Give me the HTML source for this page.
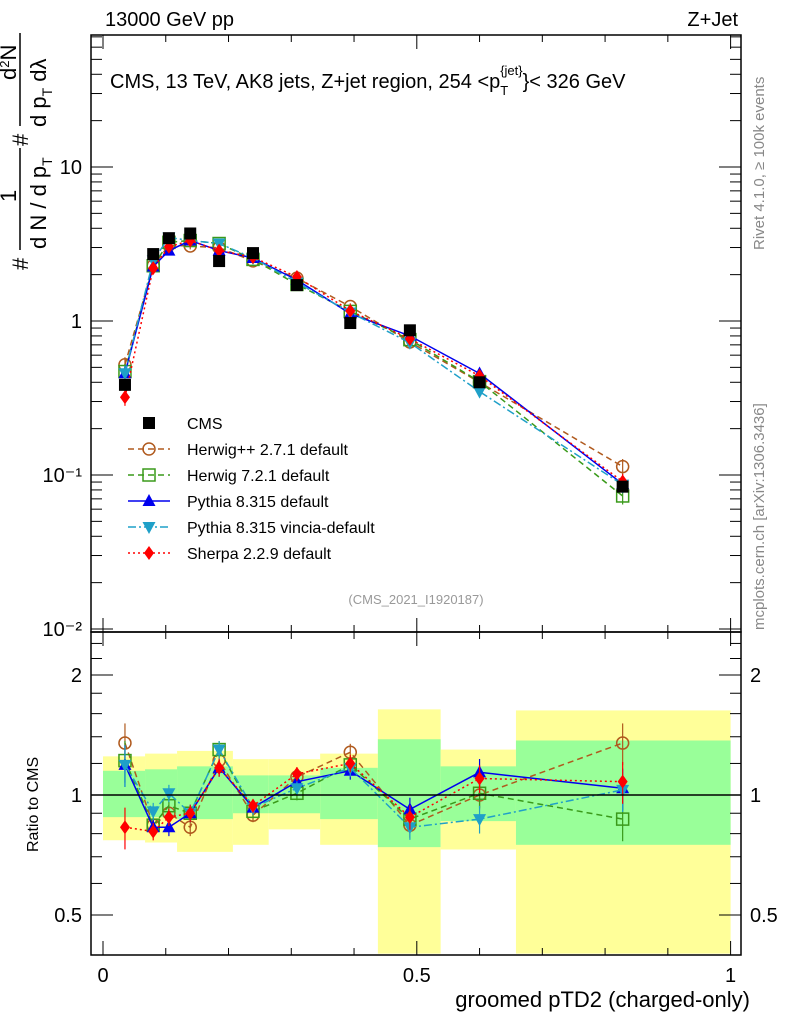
<!DOCTYPE html>
<html><head><meta charset="utf-8"><style>
body{margin:0;background:#fff;}
svg{display:block;font-family:"Liberation Sans",sans-serif;}
</style></head><body>
<svg id="chart" width="786" height="1024" viewBox="0 0 786 1024" xmlns="http://www.w3.org/2000/svg">
<g id="bands"></g>
<g id="grid"></g>
<g id="series"></g>
<rect x="91" y="35" width="650" height="597" fill="none" stroke="#000" stroke-width="1.5"/>
<rect x="91" y="632" width="650" height="323" fill="none" stroke="#000" stroke-width="1.5"/>
<line x1="91" y1="795" x2="741" y2="795" stroke="#000" stroke-width="1.5"/>
<text x="105" y="26" font-size="20">13000 GeV pp</text>
<text x="738" y="26" font-size="20" text-anchor="end">Z+Jet</text>
<text x="110" y="88" font-size="20">CMS, 13 TeV, AK8 jets, Z+jet region, 254 &lt;p<tspan font-size="13" dy="7">T</tspan><tspan font-size="13" dx="-8" dy="-20">{jet}</tspan><tspan dy="13">}&lt; 326 GeV</tspan></text>
<text x="416" y="604" font-size="13" fill="#999" text-anchor="middle">(CMS_2021_I1920187)</text>
<text transform="translate(764,250) rotate(-90)" font-size="15" fill="#888">Rivet 4.1.0, ≥ 100k events</text>
<text transform="translate(764,630) rotate(-90)" font-size="15" fill="#888">mcplots.cern.ch [arXiv:1306.3436]</text>
<g font-size="22">
<text transform="translate(28,270) rotate(-90)">#</text>
<text transform="translate(16,202) rotate(-90)">1</text>
<line x1="20" y1="148" x2="20" y2="250" stroke="#000" stroke-width="1.5"/>
<text transform="translate(46,249) rotate(-90)">d N / d p<tspan font-size="14" dy="6">T</tspan></text>
<text transform="translate(28,146) rotate(-90)">#</text>
<text transform="translate(16,80) rotate(-90)">d<tspan font-size="13" dy="-7">2</tspan><tspan dy="7">N</tspan></text>
<line x1="20" y1="33" x2="20" y2="126" stroke="#000" stroke-width="1.5"/>
<text transform="translate(46,127) rotate(-90)">d p<tspan font-size="14" dy="6">T</tspan><tspan dy="-6"> dλ</tspan></text>
</g>
<text transform="translate(38,852) rotate(-90)" font-size="16">Ratio to CMS</text>
<text x="750" y="1007" font-size="22" text-anchor="end">groomed pTD2 (charged-only)</text>
<g id="legend"></g>
</svg>
<script>
const xs=[0.035,0.080,0.105,0.139,0.185,0.239,0.309,0.394,0.489,0.600,0.828];
const cms=[0.385,2.72,3.45,3.7,2.45,2.76,1.71,0.97,0.87,0.40,0.084];
const rHpp=[1.35,0.84,0.90,0.83,1.22,0.89,1.11,1.28,0.84,1.00,1.35];
const rH7=[1.22,0.84,0.94,0.90,1.30,0.91,1.01,1.19,0.87,1.01,0.87];
const rPy=[1.19,0.83,0.83,0.90,1.17,0.93,1.08,1.15,0.92,1.14,1.04];
const rVi=[1.19,0.91,1.01,0.90,1.30,0.93,1.04,1.17,0.83,0.87,1.03];
const rSh=[0.83,0.81,0.88,0.90,1.17,0.94,1.13,1.20,0.88,1.10,1.08];
const errs=[0.12,0.05,0.05,0.05,0.05,0.04,0.04,0.05,0.07,0.08,0.12];
const bandEdges=[0,0.067,0.118,0.207,0.264,0.346,0.438,0.538,0.658,1.0];
const yelLo=[0.77,0.76,0.72,0.75,0.82,0.75,0.40,0.73,0.40];
const yelHi=[1.25,1.27,1.29,1.23,1.23,1.27,1.64,1.30,1.63];
const grnLo=[0.88,0.88,0.87,0.90,0.90,0.87,0.74,0.86,0.75];
const grnHi=[1.15,1.16,1.18,1.12,1.12,1.17,1.38,1.18,1.37];
const xTicks=[0,0.5,1];
const yTicks=[0.01,0.1,1,10];
const yTickLabels=["10\u207B\u00B2","10\u207B\u00B9","1","10"];
const rTicks=[0.5,1,2];
const rTickLabels=["0.5","1","2"];

const NS="http://www.w3.org/2000/svg";
const X=v=>103+v*627.6;
const Y=v=>321-154*Math.log10(v);
const R=v=>795-120*Math.log2(v);
function el(tag,attrs,parent){const e=document.createElementNS(NS,tag);for(const k in attrs)e.setAttribute(k,attrs[k]);parent.appendChild(e);return e;}
const svg=document.getElementById('chart');
const bands=document.getElementById('bands'),grid=document.getElementById('grid'),ser=document.getElementById('series'),leg=document.getElementById('legend');

for(let i=0;i<bandEdges.length-1;i++){
  const x0=X(bandEdges[i]),x1=X(bandEdges[i+1]);
  const yt=Math.max(632,R(yelHi[i])),yb=Math.min(955,R(yelLo[i]));
  const a=el('rect',{x:x0,y:yt,width:x1-x0,height:yb-yt,fill:'#ffff99'},bands);
  
  
  const gt=R(grnHi[i]),gb=R(grnLo[i]);
  const b=el('rect',{x:x0,y:gt,width:x1-x0,height:gb-gt,fill:'#99ff99'},bands);
  
  
}
for(let v=0;v<=1.0001;v+=0.1){
  const big=Math.abs(v*2-Math.round(v*2))<1e-6;
  const L=big?14:7;
  [[35,1],[632,-1],[632,1],[955,-1]].forEach(([y,d])=>el('line',{x1:X(v),x2:X(v),y1:y,y2:y+d*L,stroke:'#000'},grid));
}
xTicks.forEach(v=>{const t=el('text',{x:X(v),y:982,'font-size':20,'text-anchor':'middle'},svg);t.textContent=String(v);

});
for(let e=-2;e<=1;e++){for(let m=1;m<=9;m++){const v=m*Math.pow(10,e);const y=Y(v);if(y<35||y>632)continue;const L=m==1?22:11;
el('line',{x1:91,x2:91+L,y1:y,y2:y,stroke:'#000'},grid);el('line',{x1:741,x2:741-L,y1:y,y2:y,stroke:'#000'},grid);}}
yTicks.forEach((v,i)=>{const t=el('text',{x:82,y:Y(v)+7,'font-size':20,'text-anchor':'end'},svg);t.textContent=yTickLabels[i];

});
[0.5,0.6,0.7,0.8,0.9,1,1.2,1.4,1.6,1.8,2,2.2,2.4].forEach(v=>{const y=R(v);const L=(v==0.5||v==1||v==2)?22:11;
el('line',{x1:91,x2:91+L,y1:y,y2:y,stroke:'#000'},grid);el('line',{x1:741,x2:741-L,y1:y,y2:y,stroke:'#000'},grid);});
rTicks.forEach((v,i)=>{[[82,'end'],[750,'start']].forEach(([x,a])=>{const t=el('text',{x:x,y:R(v)+7,'font-size':20,'text-anchor':a},svg);t.textContent=rTickLabels[i];

});});

const series=[
 {name:'Herwig++ 2.7.1 default',r:rHpp,c:'#b05a1e',dash:'6,4',m:'circle'},
 {name:'Herwig 7.2.1 default',r:rH7,c:'#3a9a1a',dash:'6,4',m:'square'},
 {name:'Pythia 8.315 default',r:rPy,c:'#0000ee',dash:'',m:'tri'},
 {name:'Pythia 8.315 vincia-default',r:rVi,c:'#1fa0c8',dash:'8,3,2,3',m:'dtri'},
 {name:'Sherpa 2.2.9 default',r:rSh,c:'#ff0000',dash:'2,3',m:'diamond'}
];
function marker(g,type,x,y,c){
  let e;
  if(type=='circle')e=el('circle',{cx:x,cy:y,r:6,fill:'none',stroke:c,'stroke-width':1.5},g);
  else if(type=='square')e=el('rect',{x:x-6,y:y-6,width:12,height:12,fill:'none',stroke:c,'stroke-width':1.5},g);
  else if(type=='tri')e=el('path',{d:`M${x},${y-7}L${x+6.5},${y+5}L${x-6.5},${y+5}Z`,fill:c},g);
  else if(type=='dtri')e=el('path',{d:`M${x},${y+7}L${x+6.5},${y-5}L${x-6.5},${y-5}Z`,fill:c},g);
  else if(type=='diamond')e=el('path',{d:`M${x},${y-7}L${x+5},${y}L${x},${y+7}L${x-5},${y}Z`,fill:c},g);
  else e=el('rect',{x:x-6,y:y-6,width:12,height:12,fill:c},g);
  return e;
}
series.forEach((s,si)=>{
  const g=el('g',{},ser);
  
  
  const mainPts=xs.map((x,i)=>[X(x),Y(cms[i]*s.r[i])]);
  const ratPts=xs.map((x,i)=>[X(x),R(s.r[i])]);
  [mainPts,ratPts].forEach((pts,k)=>{
    el('polyline',{points:pts.map(p=>p.join(',')).join(' '),fill:'none',stroke:s.c,'stroke-width':1.5,'stroke-dasharray':s.dash},g);
    pts.forEach((p,i)=>{
      const v=k==0?cms[i]*s.r[i]:s.r[i];const f=k==0?Y:R;
      el('line',{x1:p[0],x2:p[0],y1:f(v*(1+errs[i])),y2:f(v*(1-errs[i])),stroke:s.c,'stroke-width':1.2},g);
      const m=marker(g,s.m,p[0],p[1],s.c);
      
      
    });
  });
  const ly=423+26*(si+1);
  el('line',{x1:128,x2:170,y1:ly,y2:ly,stroke:s.c,'stroke-width':1.5,'stroke-dasharray':s.dash},leg);
  marker(leg,s.m,149,ly,s.c);
  const t=el('text',{x:187,y:ly+6,'font-size':16},leg);t.textContent=s.name;
  
  
});
const cg=el('g',{},ser);


xs.forEach((x,i)=>{const m=marker(cg,'cms',X(x),Y(cms[i]),'#000');

});
marker(leg,'cms',149,423,'#000');
const ct=el('text',{x:187,y:429,'font-size':16},leg);ct.textContent='CMS';


</script>
</body></html>
